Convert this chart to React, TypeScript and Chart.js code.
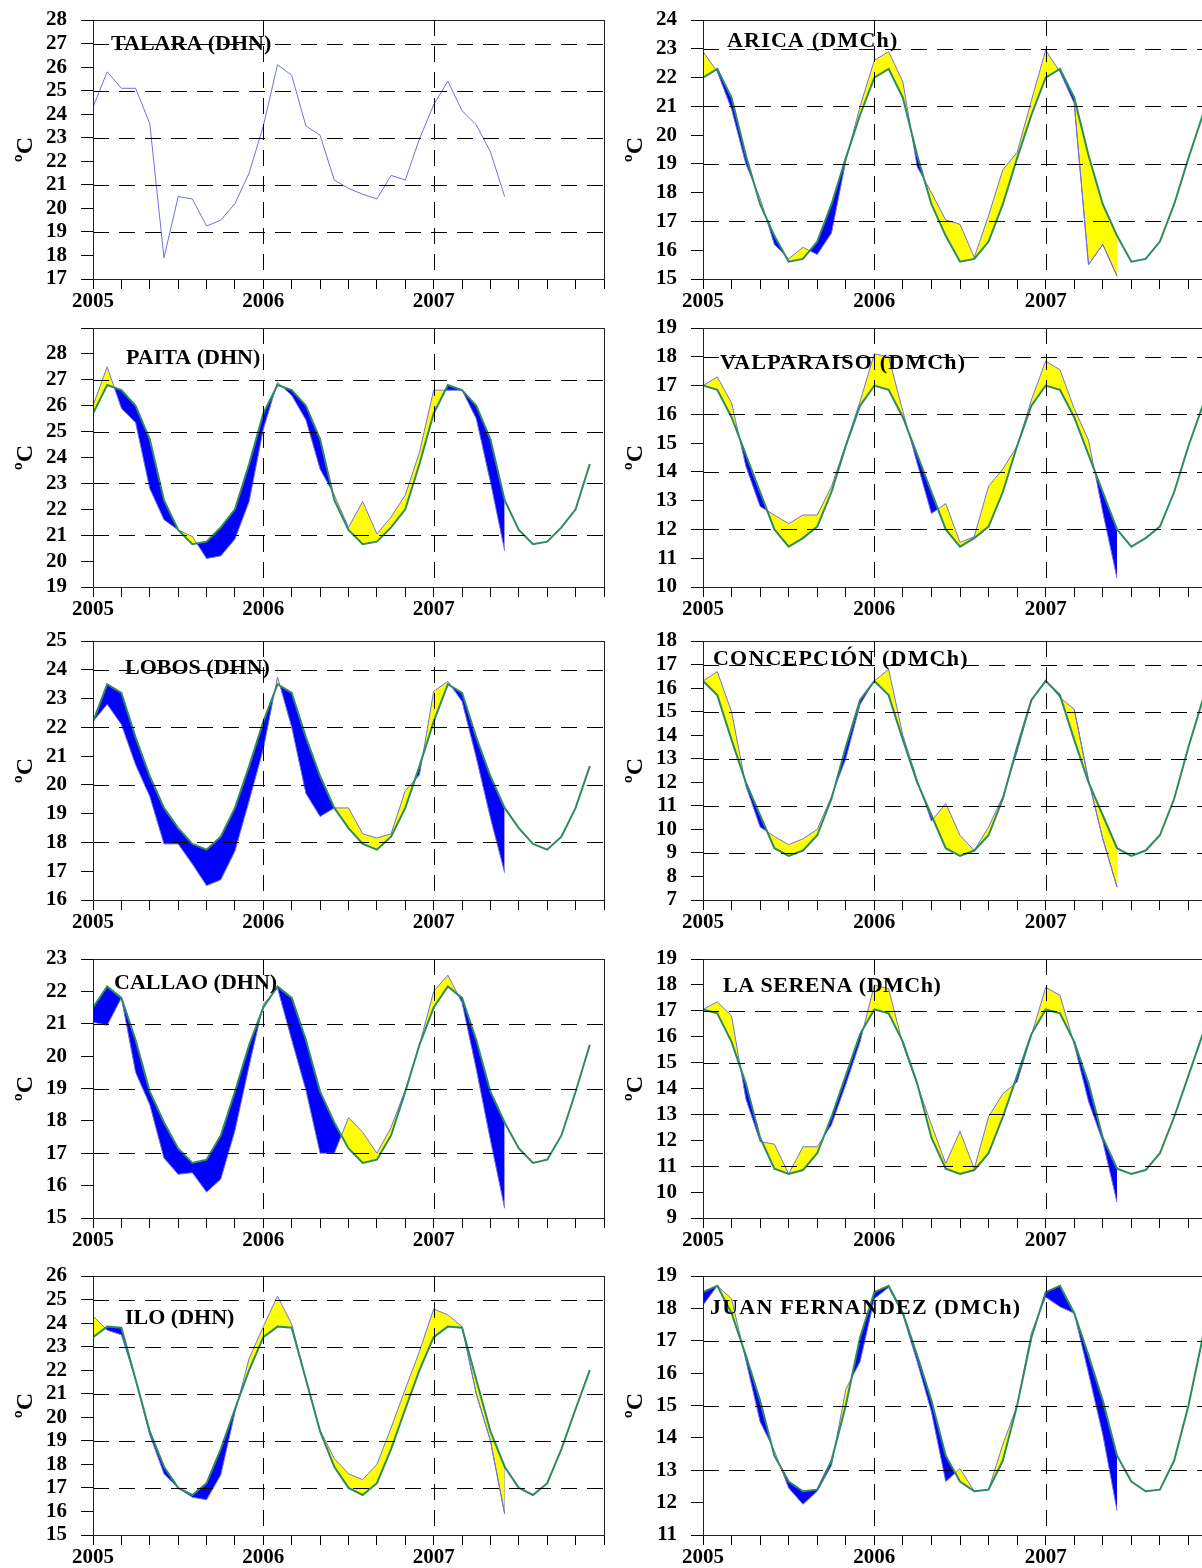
import React, { useEffect, useRef } from 'react';
import { Chart, registerables } from 'chart.js';

Chart.register(...registerables);

// ---------- DATA (monthly, index 0 = Jan 2005) ----------
const yearTickMonths = [0, 12, 24];
const yearTickLabels = ['2005', '2006', '2007'];

const talaraObs = [24.3, 25.8, 25.1, 25.1, 23.6, 17.9, 20.5, 20.4, 19.25, 19.5, 20.2, 21.5, 23.5, 26.1, 25.65, 23.5, 23.1, 21.2, 20.85, 20.6, 20.4, 21.4, 21.2, 22.95, 24.4, 25.4, 24.15, 23.55, 22.4, 20.5];

const aricaClim = [22.0, 22.3, 21.3, 19.3, 17.6, 16.5, 15.6, 15.7, 16.3, 17.6, 19.2, 20.7];
const aricaObs = [22.9, 22.2, 20.9, 19.0, 17.8, 16.2, 15.7, 16.1, 15.85, 16.6, 19.1, 21.0, 22.6, 22.9, 21.85, 18.9, 18.0, 17.05, 16.9, 15.75, 17.2, 18.8, 19.4, 21.2, 22.95, 22.2, 21.1, 15.5, 16.2, 15.1];

const paitaClim = [25.7, 26.8, 26.6, 26.0, 24.7, 22.35, 21.2, 20.65, 20.75, 21.3, 22.0, 23.75];
const paitaObs = [26.0, 27.5, 25.9, 25.35, 22.8, 21.6, 21.2, 20.95, 20.1, 20.2, 20.85, 22.3, 25.1, 26.9, 26.4, 25.45, 23.55, 22.55, 21.3, 22.3, 21.05, 21.7, 22.55, 24.2, 26.6, 26.6, 26.6, 25.5, 23.05, 20.4];

const valparaisoClim = [17.0, 16.85, 15.9, 14.6, 13.3, 12.0, 11.4, 11.7, 12.1, 13.3, 14.9, 16.3];
const valparaisoObs = [17.0, 17.3, 16.4, 14.2, 12.8, 12.5, 12.2, 12.5, 12.5, 13.5, 14.95, 16.45, 18.1, 18.0, 16.1, 14.3, 12.55, 12.9, 11.55, 11.75, 13.5, 14.1, 14.9, 16.5, 17.85, 17.55, 16.2, 15.1, 12.6, 10.3];

const lobosClim = [22.2, 23.5, 23.2, 21.65, 20.3, 19.2, 18.5, 17.95, 17.75, 18.2, 19.2, 20.65];
const lobosObs = [22.2, 22.8, 22.1, 20.7, 19.6, 17.95, 17.95, 17.25, 16.5, 16.7, 17.7, 19.45, 21.25, 23.75, 22.0, 19.7, 18.9, 19.2, 19.2, 18.3, 18.15, 18.3, 19.8, 20.35, 23.25, 23.6, 22.9, 20.95, 18.85, 16.95];

const concepcionClim = [16.3, 15.7, 13.8, 12.0, 10.6, 9.2, 8.87, 9.1, 9.75, 11.3, 13.5, 15.5];
const concepcionObs = [16.3, 16.7, 15.0, 11.85, 10.1, 9.7, 9.35, 9.6, 10.0, 11.4, 13.0, 15.3, 16.3, 16.8, 14.0, 12.1, 10.35, 11.1, 9.75, 9.1, 10.1, 11.4, 13.3, 15.45, 16.35, 15.6, 15.1, 12.1, 9.6, 7.55];

const callaoClim = [21.5, 22.15, 21.8, 20.5, 18.9, 17.95, 17.15, 16.7, 16.8, 17.55, 18.9, 20.35];
const callaoObs = [21.05, 20.95, 21.8, 19.5, 18.5, 16.85, 16.35, 16.4, 15.8, 16.2, 17.7, 19.7, 21.6, 22.1, 20.5, 18.95, 17.0, 17.0, 18.1, 17.65, 17.0, 17.8, 18.95, 20.35, 22.0, 22.5, 21.65, 19.6, 17.4, 15.3];

const laSerenaClim = [17.05, 16.9, 15.8, 14.2, 12.1, 10.9, 10.7, 10.85, 11.5, 12.9, 14.5, 16.1];
const laSerenaObs = [17.05, 17.35, 16.8, 13.6, 11.95, 11.85, 10.7, 11.75, 11.75, 12.6, 14.15, 15.8, 18.0, 17.85, 15.7, 14.15, 12.6, 11.1, 12.35, 10.9, 12.9, 13.8, 14.25, 16.05, 17.9, 17.6, 15.7, 13.5, 11.95, 9.6];

const iloClim = [23.4, 23.85, 23.8, 21.6, 19.4, 17.9, 17.0, 16.7, 17.2, 18.65, 20.35, 22.0];
const iloObs = [24.3, 23.7, 23.5, 21.6, 19.25, 17.6, 17.0, 16.6, 16.5, 17.55, 20.2, 22.5, 23.85, 25.15, 23.95, 21.6, 19.45, 18.25, 17.6, 17.35, 18.0, 19.55, 21.2, 22.8, 24.6, 24.35, 23.85, 21.0, 19.0, 15.9];

const juanFernandezClim = [18.5, 18.7, 17.85, 16.55, 15.15, 13.45, 12.65, 12.35, 12.4, 13.3, 15.0, 17.1];
const juanFernandezObs = [18.1, 18.7, 18.3, 16.4, 14.5, 13.6, 12.45, 11.95, 12.35, 13.15, 15.5, 16.35, 18.3, 18.65, 17.8, 16.35, 14.8, 12.65, 13.05, 12.35, 12.4, 13.8, 15.0, 17.25, 18.35, 18.05, 17.85, 16.0, 14.1, 11.75];

const climYears = 3;

// ---------- STYLE / LAYOUT ----------
const YELLOW = '#ffff00';
const BLUE = '#0000ff';
const OBS_COLOR = '#7070e2';
const CLIM_COLOR = '#2e8b5e';
const SERIF = '"Liberation Serif", "Times New Roman", serif';

type Station = {
  title: string;
  obs: number[];
  clim?: number[];
  yMin: number;
  yMax: number;
  hideTop?: boolean;
  yellowFrom?: number;
  tx: number;
  ty: number;
  spacing: number;
};

const leftStations: Station[] = [
  { title: 'TALARA (DHN)', obs: talaraObs, yMin: 17, yMax: 28, tx: 18, ty: 23, spacing: 0 },
  { title: 'PAITA (DHN)', obs: paitaObs, clim: paitaClim, yMin: 19, yMax: 29, hideTop: true, tx: 33, ty: 29, spacing: 0 },
  { title: 'LOBOS (DHN)', obs: lobosObs, clim: lobosClim, yMin: 16, yMax: 25, tx: 32, ty: 25.5, spacing: 0 },
  { title: 'CALLAO (DHN)', obs: callaoObs, clim: callaoClim, yMin: 15, yMax: 23, tx: 21, ty: 22.5, spacing: 0 },
  { title: 'ILO (DHN)', obs: iloObs, clim: iloClim, yMin: 15, yMax: 26, yellowFrom: 26, tx: 32, ty: 41, spacing: 0 },
];
const rightStations: Station[] = [
  { title: 'ARICA (DMCh)', obs: aricaObs, clim: aricaClim, yMin: 15, yMax: 24, yellowFrom: 26, tx: 24, ty: 20, spacing: 1.2 },
  { title: 'VALPARAISO (DMCh)', obs: valparaisoObs, clim: valparaisoClim, yMin: 10, yMax: 19, tx: 17, ty: 34, spacing: 1.2 },
  { title: 'CONCEPCIÓN (DMCh)', obs: concepcionObs, clim: concepcionClim, yMin: 7, yMax: 18, yellowFrom: 26, tx: 10, ty: 16.5, spacing: 1.2 },
  { title: 'LA SERENA (DMCh)', obs: laSerenaObs, clim: laSerenaClim, yMin: 9, yMax: 19, tx: 20, ty: 26, spacing: 0.5 },
  { title: 'JUAN FERNANDEZ (DMCh)', obs: juanFernandezObs, clim: juanFernandezClim, yMin: 11, yMax: 19, tx: 7, ty: 31, spacing: 1.2 },
];

const rowTops = [20, 328, 641, 959, 1276];
const rowBottoms = [279, 587, 900, 1218, 1535];
const PAD_TOP = 32;
const X_AXIS_H = 36;
const Y_AXIS_W = 93;

type PanelProps = { st: Station; left: number; width: number; padRight: number; plotTop: number; plotBottom: number };

function Panel({ st, left, width, padRight, plotTop, plotBottom }: PanelProps) {
  const ref = useRef<HTMLCanvasElement | null>(null);
  const height = plotBottom - plotTop + PAD_TOP + X_AXIS_H;

  useEffect(() => {
    if (!ref.current) return;
    const datasets: any[] = [];
    if (st.clim) {
      const climPts: { x: number; y: number }[] = [];
      for (let yr = 0; yr < climYears; yr++) {
        st.clim.forEach((v, m) => climPts.push({ x: yr * 12 + m, y: v }));
      }
      datasets.push({
        data: climPts,
        borderColor: CLIM_COLOR,
        borderWidth: 2,
        pointRadius: 0,
        fill: false,
        tension: 0,
      });
      if (st.yellowFrom !== undefined) {
        const from = st.yellowFrom;
        datasets.push({
          data: st.obs.map((v, i) => ({ x: i, y: v })).filter((p) => p.x >= from),
          borderColor: OBS_COLOR,
          borderWidth: 1,
          pointRadius: 0,
          tension: 0,
          fill: { target: 0, above: YELLOW, below: YELLOW },
        });
      }
    }
    datasets.push({
      data: st.obs.map((v, i) => ({ x: i, y: v })),
      borderColor: OBS_COLOR,
      borderWidth: 1,
      pointRadius: 0,
      tension: 0,
      fill: st.clim ? { target: 0, above: YELLOW, below: BLUE } : false,
    });

    const decor = {
      id: 'decor',
      afterDatasetsDraw(chart: any) {
        const { ctx, chartArea: a, scales } = chart;
        const xs = scales.x;
        const ys = scales.y;
        ctx.save();
        ctx.strokeStyle = '#000';
        ctx.lineWidth = 1;
        ctx.setLineDash([16, 10]);
        for (let v = st.yMin + 2; v < st.yMax; v += 2) {
          const py = Math.round(ys.getPixelForValue(v)) + 0.5;
          ctx.beginPath();
          ctx.moveTo(a.left, py);
          ctx.lineTo(a.right, py);
          ctx.stroke();
        }
        for (const m of [12, 24]) {
          const px = Math.round(xs.getPixelForValue(m)) + 0.5;
          ctx.beginPath();
          ctx.moveTo(px, a.top);
          ctx.lineTo(px, a.bottom);
          ctx.stroke();
        }
        ctx.setLineDash([]);
        ctx.strokeStyle = '#222';
        ctx.strokeRect(Math.round(a.left) + 0.5, Math.round(a.top) + 0.5, Math.round(a.right - a.left), Math.round(a.bottom - a.top));
        ctx.fillStyle = '#000';
        ctx.font = `bold 22px ${SERIF}`;
        (ctx as any).letterSpacing = `${st.spacing}px`;
        ctx.textBaseline = 'alphabetic';
        ctx.textAlign = 'left';
        ctx.fillText(st.title, a.left + st.tx, a.top + st.ty + 7);
        (ctx as any).letterSpacing = '0px';
        ctx.translate(26, (a.top + a.bottom) / 2);
        ctx.rotate(-Math.PI / 2);
        ctx.textAlign = 'center';
        ctx.textBaseline = 'middle';
        ctx.font = `bold 24px ${SERIF}`;
        ctx.fillText('ºC', 0, 0);
        ctx.restore();
      },
    };

    const chart = new Chart(ref.current, {
      type: 'line',
      data: { datasets },
      options: {
        responsive: false,
        animation: false,
        devicePixelRatio: 1,
        parsing: false as any,
        layout: { padding: { top: PAD_TOP, right: padRight, left: 0, bottom: 0 } },
        plugins: {
          legend: { display: false },
          tooltip: { enabled: false },
          filler: { drawTime: 'beforeDatasetsDraw' },
        },
        scales: {
          x: {
            type: 'linear',
            min: 0,
            max: 36,
            afterFit: (s: any) => { s.height = X_AXIS_H; },
            border: { display: false },
            grid: { drawOnChartArea: false, drawTicks: true, tickLength: 10, tickColor: '#000', color: '#000', lineWidth: 1 },
            ticks: {
              stepSize: 2,
              autoSkip: false,
              maxRotation: 0,
              padding: 0,
              color: '#000',
              font: { family: SERIF, size: 21, weight: 'bold' },
              callback: (v: any) => {
                const k = yearTickMonths.indexOf(Number(v));
                return k >= 0 ? yearTickLabels[k] : '';
              },
            },
          },
          y: {
            type: 'linear',
            min: st.yMin,
            max: st.yMax,
            afterFit: (s: any) => { s.width = Y_AXIS_W; },
            border: { display: false },
            grid: { drawOnChartArea: false, drawTicks: true, tickLength: 12, tickColor: '#000', color: '#000', lineWidth: 1 },
            ticks: {
              stepSize: 1,
              autoSkip: false,
              padding: 14,
              color: '#000',
              font: { family: SERIF, size: 21, weight: 'bold' },
              callback: (v: any) => (st.hideTop && Number(v) === st.yMax ? '' : String(v)),
            },
          },
        },
      } as any,
      plugins: [decor],
    });
    return () => chart.destroy();
  }, [st, padRight]);

  return (
    <canvas
      ref={ref}
      width={width}
      height={height}
      style={{ position: 'absolute', left, top: plotTop - PAD_TOP, width, height, display: 'block' }}
    />
  );
}

export default function App() {
  return (
    <div style={{ position: 'fixed', left: 0, top: 0, width: 1202, height: 1568, overflow: 'hidden', background: '#fff' }}>
      {leftStations.map((st, i) => (
        <Panel key={st.title} st={st} left={0} width={612} padRight={8} plotTop={rowTops[i]} plotBottom={rowBottoms[i]} />
      ))}
      {rightStations.map((st, i) => (
        <Panel key={st.title} st={st} left={610} width={620} padRight={13} plotTop={rowTops[i]} plotBottom={rowBottoms[i]} />
      ))}
    </div>
  );
}
